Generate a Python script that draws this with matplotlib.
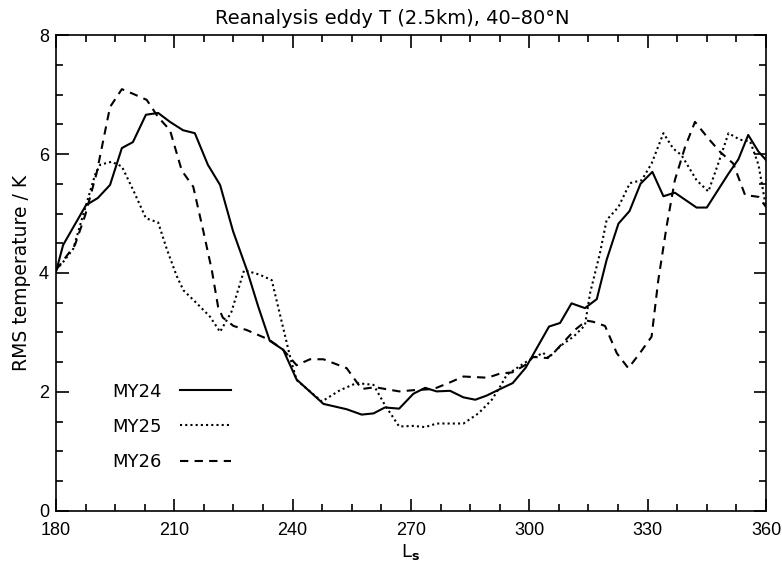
import numpy as np
import matplotlib
matplotlib.use('Agg')
import matplotlib.pyplot as plt
from matplotlib.ticker import MultipleLocator

plt.rcParams['font.family'] = ['Liberation Sans', 'DejaVu Sans']
plt.rcParams['mathtext.fontset'] = 'custom'
plt.rcParams['mathtext.rm'] = 'DejaVu Sans'
plt.rcParams['mathtext.bf'] = 'DejaVu Sans:bold'

# MY24 (solid)
ls24 = [180, 181.8, 187.6, 190.6, 193.7, 196.7, 199.5, 202.8, 205.9, 208.9,
        212.2, 215.2, 218.5, 221.6, 224.9, 228.4, 231.3, 234.2, 237.6, 241.0,
        247.8, 253.7, 257.5, 260.5, 263.4, 267.0, 270.6, 273.6, 276.5, 279.9,
        283.3, 286.3, 289.2, 292.6, 295.8, 299.1, 305.0, 307.8, 310.7, 314.1,
        317.1, 319.6, 322.6, 325.4, 328.2, 331.2, 334.0, 336.9, 342.4, 345.0,
        350.5, 353.0, 355.5, 358.1, 360]
t24 = [4.02, 4.47, 5.14, 5.26, 5.48, 6.10, 6.20, 6.66, 6.69, 6.54,
       6.40, 6.35, 5.82, 5.48, 4.70, 4.05, 3.43, 2.86, 2.71, 2.21,
       1.80, 1.71, 1.62, 1.64, 1.74, 1.72, 1.97, 2.07, 2.01, 2.02,
       1.91, 1.87, 1.94, 2.05, 2.15, 2.41, 3.10, 3.16, 3.49, 3.41,
       3.56, 4.22, 4.83, 5.04, 5.50, 5.70, 5.29, 5.35, 5.10, 5.10,
       5.67, 5.91, 6.32, 6.04, 5.90]

# MY25 (dotted)
ls25 = [180, 182.0, 184.4, 186.5, 189.9, 191.2, 194.1, 196.7, 199.6, 202.8,
        205.9, 208.1, 210.6, 212.3, 215.7, 219.0, 221.6, 224.5, 227.7, 231.7,
        234.7, 239.5, 241.0, 247.4, 252.0, 256.2, 260.5, 263.4, 267.0, 270.6,
        273.6, 276.5, 283.3, 287.1, 290.5, 292.6, 294.3, 299.3, 303.5, 304.8,
        308.2, 311.2, 314.1, 315.4, 317.9, 319.6, 322.6, 325.5, 328.5, 331.0,
        334.0, 336.5, 338.6, 342.4, 345.4, 347.9, 350.5, 353.4, 356.0, 358.1,
        360]
t25 = [4.05, 4.20, 4.41, 4.89, 5.65, 5.82, 5.87, 5.79, 5.39, 4.92,
       4.85, 4.40, 3.95, 3.71, 3.49, 3.27, 3.01, 3.35, 4.05, 3.97,
       3.88, 2.55, 2.20, 1.84, 2.03, 2.15, 2.12, 1.78, 1.42, 1.43,
       1.41, 1.47, 1.47, 1.64, 1.87, 2.09, 2.29, 2.51, 2.66, 2.57,
       2.79, 2.93, 3.12, 3.66, 4.33, 4.89, 5.11, 5.51, 5.56, 5.84,
       6.35, 6.09, 5.98, 5.56, 5.37, 5.84, 6.35, 6.24, 6.21, 5.82,
       5.11]

# MY26 (dashed)
ls26 = [180, 184.8, 187.4, 190.3, 193.7, 196.7, 199.6, 203.0, 205.9, 208.9,
        211.9, 214.8, 217.3, 219.5, 221.1, 222.3, 225.0, 228.4, 234.0, 237.6,
        241.0, 244.4, 247.8, 253.7, 257.5, 260.9, 267.0, 270.6, 275.7, 279.5,
        283.3, 289.4, 292.6, 295.7, 298.9, 301.0, 304.6, 306.9, 311.5, 314.5,
        316.2, 319.2, 322.2, 325.1, 328.0, 331.0, 332.7, 334.8, 336.9, 339.5,
        342.0, 345.4, 348.3, 351.7, 354.7, 358.1, 360]
t26 = [4.05, 4.47, 4.97, 5.68, 6.79, 7.09, 7.01, 6.91, 6.62, 6.40,
       5.72, 5.45, 4.72, 4.05, 3.43, 3.25, 3.11, 3.04, 2.88, 2.71,
       2.45, 2.55, 2.55, 2.40, 2.05, 2.08, 2.01, 2.03, 2.05, 2.15,
       2.26, 2.24, 2.31, 2.33, 2.45, 2.59, 2.57, 2.71, 3.04, 3.20,
       3.18, 3.11, 2.65, 2.40, 2.65, 2.93, 3.88, 4.78, 5.56, 6.12,
       6.54, 6.26, 6.04, 5.84, 5.31, 5.28, 5.11]

fig = plt.figure(figsize=(7.82, 5.63), dpi=100)
ax = fig.add_axes([0.0716, 0.0924, 0.9079, 0.8454])

ax.plot(ls24, t24, color='black', lw=1.5, ls='-', label='MY24')
ax.plot(ls25, t25, color='black', lw=1.5, ls=(0, (1, 1.5)), label='MY25')
ax.plot(ls26, t26, color='black', lw=1.5, ls=(0, (4, 3)), label='MY26')

ax.set_xlim(180, 360)
ax.set_ylim(0, 8)
ax.xaxis.set_major_locator(MultipleLocator(30))
ax.xaxis.set_minor_locator(MultipleLocator(7.5))
ax.yaxis.set_major_locator(MultipleLocator(2))
ax.yaxis.set_minor_locator(MultipleLocator(0.5))
ax.tick_params(which='both', direction='in', top=True, right=True, width=1.2,
               labelsize=13)
ax.tick_params(which='major', length=9)
ax.tick_params(which='minor', length=5)
ax.tick_params(axis='x', pad=8)
ax.tick_params(axis='y', pad=5)
for s in ax.spines.values():
    s.set_linewidth(1.2)

# title sits a bit left of the axes centre in the original
ax.set_title('Reanalysis eddy T (2.5km), 40\u201380\u00b0N', fontsize=14,
             family='DejaVu Sans', pad=8, x=0.474)
ax.set_xlabel(r'L$_{\mathbf{s}}$', fontsize=13, family='DejaVu Sans', labelpad=2)
ax.set_ylabel('RMS temperature / K', fontsize=13.5, family='DejaVu Sans',
              labelpad=6)

ax.legend(loc='lower left', bbox_to_anchor=(0.056, 0.05), frameon=False,
          markerfirst=False, prop={'family': 'DejaVu Sans', 'size': 13},
          handlelength=2.8, handletextpad=1.05, labelspacing=0.95)

fig.savefig('out.png', dpi=100)
